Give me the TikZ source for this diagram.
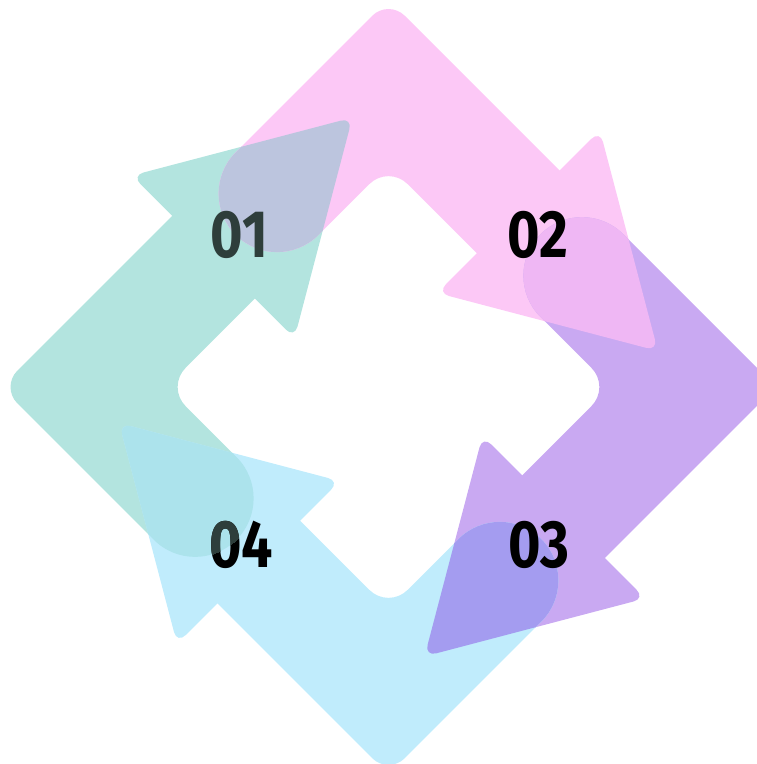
\documentclass[tikz,border=0pt]{standalone}
\usepackage{fontspec}
\newfontfamily\numfont{Fira Sans}[FakeStretch=0.83]
\definecolor{cteal}{HTML}{B3E4DF}
\definecolor{cpink}{HTML}{FCC8F6}
\definecolor{cpurp}{HTML}{C9A9F2}
\definecolor{cblue}{HTML}{C0ECFC}
\definecolor{oTP}{HTML}{BCC5DE}
\definecolor{oPP}{HTML}{EFB7F4}
\definecolor{oPB}{HTML}{A49CF0}
\definecolor{oBT}{HTML}{ACE3EC}
\definecolor{tgray}{HTML}{2E3E3B}
\tikzset{
  frame/.style={shift={(388.5,377)}, rotate=45+#1},
  numlabel/.style={font=\numfont\bfseries\fontsize{67}{67}\selectfont, inner sep=0pt, anchor=base},
}
\newcommand\bandfill[2]{\fill[#2, frame=#1] (58,157) -- (130,157) arc[start angle=90,end angle=0,radius=27] -- (157,0) -- (274,0) -- (274,251) arc[start angle=0,end angle=90,radius=23] -- (58,274) arc[start angle=90,end angle=270,radius=58.5] -- cycle;}
\newcommand\headfill[2]{\fill[#2, rounded corners=12pt, frame=#1] (101,32) -- (216,-165) -- (331,32) -- cycle;}
\newcommand\bandclip[1]{\clip[frame=#1] (58,157) -- (130,157) arc[start angle=90,end angle=0,radius=27] -- (157,0) -- (274,0) -- (274,251) arc[start angle=0,end angle=90,radius=23] -- (58,274) arc[start angle=90,end angle=270,radius=58.5] -- cycle;}
\newcommand\headclip[1]{\clip[rounded corners=12pt, frame=#1] (101,32) -- (216,-165) -- (331,32) -- cycle;}
\begin{document}
\begin{tikzpicture}[x=1pt,y=1pt]
\useasboundingbox (0,0) rectangle (757,764);
\clip (0,0) rectangle (757,764);
% arrows
\bandfill{90}{cteal}\headfill{90}{cteal}
\bandfill{0}{cpink}\headfill{0}{cpink}
\bandfill{-90}{cpurp}\headfill{-90}{cpurp}
\bandfill{180}{cblue}\headfill{180}{cblue}
% overlaps
\begin{scope}\headclip{90}\bandfill{0}{oTP}\end{scope}
\begin{scope}\headclip{0}\bandfill{-90}{oPP}\end{scope}
\begin{scope}\headclip{-90}\bandfill{180}{oPB}\end{scope}
\begin{scope}\headclip{180}\bandfill{90}{oBT}\end{scope}
% labels
\node[numlabel, text=tgray] (n01) at (239.5,506) {01};
\node[numlabel] (n02) at (538,506) {02};
\node[numlabel] (n03) at (538.5,196) {03};
\node[numlabel] (n04) at (241,196) {04};
\begin{scope}\bandclip{90}
\node[numlabel, text=tgray] (n04g) at (241,196) {04};
\end{scope}
\end{tikzpicture}
\end{document}
